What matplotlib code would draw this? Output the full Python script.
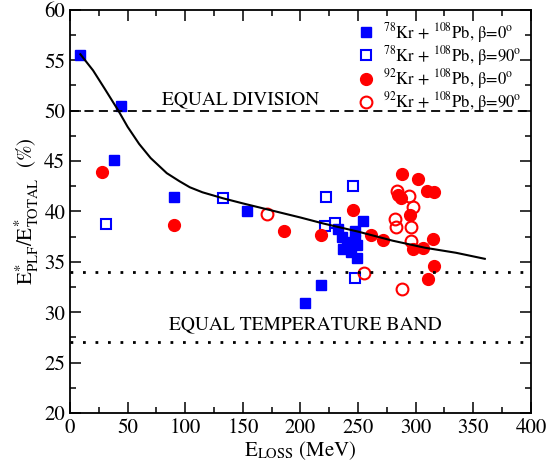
import matplotlib
matplotlib.use("Agg")
import matplotlib.pyplot as plt
from matplotlib.ticker import MultipleLocator

plt.rcParams["font.family"] = "STIXGeneral"
plt.rcParams["mathtext.fontset"] = "stix"

# 78Kr + 108Pb, beta = 0
kr78_b0_e = [9, 44, 38, 90, 154, 218, 204, 254, 233, 247, 236, 240, 247, 237, 244, 249, 249]
kr78_b0_r = [55.5, 50.5, 45.1, 41.4, 40.0, 32.7, 30.9, 39.1, 38.3, 38.1, 37.5, 37.0, 37.2, 36.3, 36.0, 36.7, 35.4]

# 78Kr + 108Pb, beta = 90
kr78_b90_e = [31, 133, 222, 246, 230, 221, 247]
kr78_b90_r = [38.8, 41.35, 41.4, 42.5, 38.9, 38.6, 33.4]

# 92Kr + 108Pb, beta = 0
kr92_b0_e = [28, 90, 186, 218, 246, 261, 272, 288, 302, 310, 316, 285, 287, 295.5, 315, 298, 306, 316, 310.5]
kr92_b0_r = [43.9, 38.65, 38.05, 37.7, 40.1, 37.7, 37.2, 43.7, 43.2, 42.0, 41.95, 41.6, 41.3, 39.6, 37.3, 36.3, 36.35, 34.6, 33.3]

# 92Kr + 108Pb, beta = 90
kr92_b90_e = [171, 255, 284, 294, 297.5, 282.5, 283, 296, 296, 288]
kr92_b90_r = [39.75, 33.9, 42.0, 41.5, 40.45, 39.3, 38.5, 38.5, 37.1, 32.3]

# calculated curve
curve_e = [9, 20, 30, 42, 50, 60, 70, 84, 95, 104, 115, 133, 150, 175, 200, 220, 250, 280, 308, 335, 360]
curve_r = [55.6, 54.0, 52.2, 50.0, 48.4, 46.7, 45.3, 43.8, 43.0, 42.4, 41.9, 41.3, 40.8, 40.1, 39.4, 38.8, 38.0, 37.1, 36.4, 35.9, 35.3]

equal_division = 50
temp_band = [34, 27]

fig = plt.figure(figsize=(5.49, 4.72), dpi=100)
ax = fig.add_axes([0.1275, 0.125, 0.8395, 0.854])

ax.plot(kr78_b0_e, kr78_b0_r, "s", color="blue", ms=7.2, zorder=4,
        label=r"$^{78}$Kr + $^{108}$Pb, β=0$^{\rm o}$")
ax.plot(kr78_b90_e, kr78_b90_r, "s", mfc="white", mec="blue", mew=1.5, ms=7.2, zorder=3,
        label=r"$^{78}$Kr + $^{108}$Pb, β=90$^{\rm o}$")
ax.plot(kr92_b0_e, kr92_b0_r, "o", color="red", ms=8.5, zorder=6,
        label=r"$^{92}$Kr + $^{108}$Pb, β=0$^{\rm o}$")
ax.plot(kr92_b90_e, kr92_b90_r, "o", mfc="none", mec="red", mew=1.5, ms=8.5, zorder=5,
        label=r"$^{92}$Kr + $^{108}$Pb, β=90$^{\rm o}$")

ax.plot(curve_e, curve_r, color="black", lw=1.5, zorder=7)
ax.axhline(equal_division, color="black", ls=(0, (5, 3)), lw=1.3, zorder=7)
for v in temp_band:
    ax.axhline(v, color="black", ls=(0, (1, 3.5)), lw=2.0, zorder=7)

ax.text(80, 50.6, "EQUAL DIVISION", fontsize=14)
ax.text(86, 28.3, "EQUAL TEMPERATURE BAND", fontsize=14)

ax.set_xlim(0, 400)
ax.set_ylim(20, 60)
ax.xaxis.set_major_locator(MultipleLocator(50))
ax.xaxis.set_minor_locator(MultipleLocator(25))
ax.yaxis.set_major_locator(MultipleLocator(5))
ax.yaxis.set_minor_locator(MultipleLocator(2.5))
ax.tick_params(which="both", direction="in", top=True, right=True, labelsize=15, width=1.1)
ax.tick_params(which="major", length=8)
ax.tick_params(which="minor", length=4)
for s in ax.spines.values():
    s.set_linewidth(1.3)

ax.set_xlabel(r"E$_{\rm LOSS}$ (MeV)", fontsize=15, labelpad=1)
ax.set_ylabel(r"E$^{*}_{\rm PLF}$/E$^{*}_{\rm TOTAL}$  (%)", fontsize=15, labelpad=2)

ax.legend(loc="upper left", bbox_to_anchor=(0.6, 0.99), frameon=False, fontsize=12,
          handletextpad=0.3, labelspacing=-0.05, borderaxespad=0.0, handlelength=1.5)

plt.savefig("out.png", dpi=100)
